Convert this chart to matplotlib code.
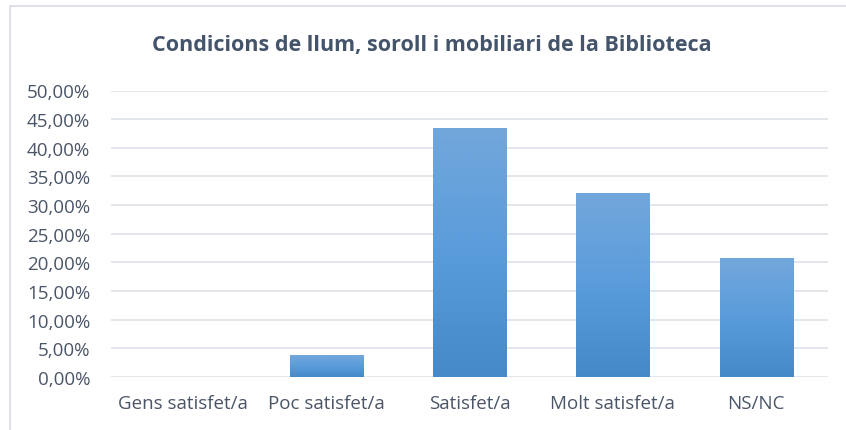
import matplotlib
matplotlib.use("Agg")
import matplotlib.pyplot as plt
import numpy as np
from matplotlib.colors import LinearSegmentedColormap
from matplotlib.patches import Rectangle
from matplotlib.ticker import FuncFormatter, MultipleLocator

title = "Condicions de llum, soroll i mobiliari de la Biblioteca"
categories = ["Gens satisfet/a", "Poc satisfet/a", "Satisfet/a", "Molt satisfet/a", "NS/NC"]
values = [0.0, 3.77, 43.40, 32.08, 20.75]

plt.rcParams['font.family'] = ['Open Sans', 'DejaVu Sans']

W, H = 846, 431
fig = plt.figure(figsize=(W / 100, H / 100), dpi=100)
fig.patch.set_facecolor("white")

# chart border (only left/top visible in the reference)
fig.add_artist(Rectangle((10 / W, -0.05), 1.2, 1 - 7 / H + 0.05, transform=fig.transFigure,
                         fill=False, edgecolor="#D9DCE3", linewidth=1.2))

ax = fig.add_axes([111 / W, 1 - 378 / H, (828 - 111) / W, (378 - 91.5) / H])
ax.set_xlim(-0.5, len(categories) - 0.5)
ax.set_ylim(0, 50)
for s in ax.spines.values():
    s.set_visible(False)

ax.yaxis.set_major_locator(MultipleLocator(5))
ax.yaxis.set_major_formatter(FuncFormatter(lambda v, p: f"{v:.2f}".replace(".", ",") + "%"))
ax.grid(axis="y", color="#E1E4E9", linewidth=1.3, zorder=0)
ax.set_axisbelow(True)
ax.tick_params(axis="both", length=0, labelsize=13.5, colors="#4A5568")
ax.tick_params(axis="y", pad=15)
ax.tick_params(axis="x", pad=12)
ax.set_xticks(range(len(categories)))
ax.set_xticklabels(categories)

cmap = LinearSegmentedColormap.from_list("g", ["#4589C9", "#5A9CDB", "#72A7DB"])
grad = np.linspace(0, 1, 256).reshape(-1, 1)
bars = ax.bar(range(len(categories)), values, width=0.51, color="#5B9BD5", zorder=2)
for b in bars:
    h = b.get_height()
    if h <= 0:
        continue
    x0 = b.get_x()
    im = ax.imshow(grad, cmap=cmap, origin="lower", aspect="auto",
                   extent=(x0, x0 + b.get_width(), 0, h), zorder=3)
    im.set_clip_path(b)
ax.set_xlim(-0.5, len(categories) - 0.5)
ax.set_ylim(0, 50)

fig.text(432 / W, 1 - 45.5 / H, title, ha="center", va="center", fontsize=15.5,
         fontweight="bold", color="#44546A")

fig.savefig("out.png", dpi=100, facecolor="white")
